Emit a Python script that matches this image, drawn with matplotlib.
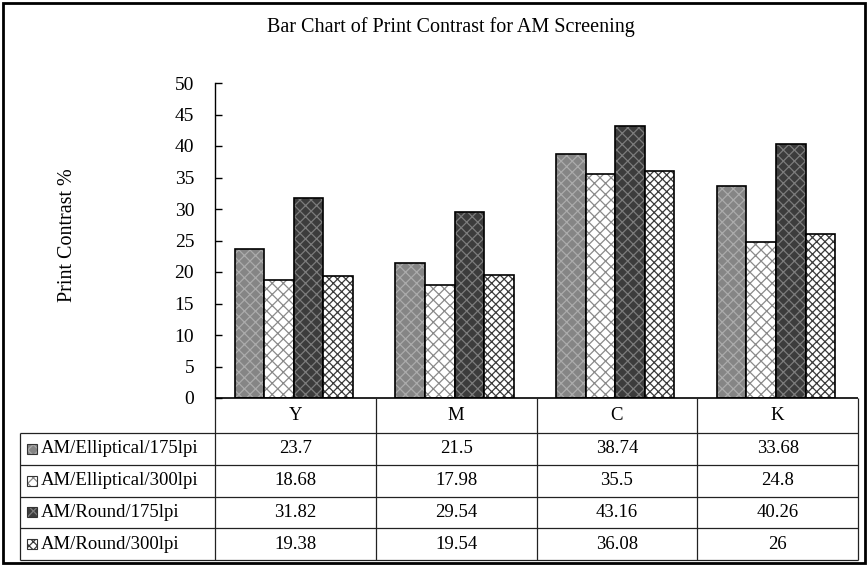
import numpy as np
import matplotlib
matplotlib.use("Agg")
import matplotlib.pyplot as plt
from matplotlib.patches import Rectangle

# ===== DATA =====
categories = ["Y", "M", "C", "K"]
series_names = ["AM/Elliptical/175lpi", "AM/Elliptical/300lpi",
                "AM/Round/175lpi", "AM/Round/300lpi"]
ell_175 = [23.7, 21.5, 38.74, 33.68]
ell_300 = [18.68, 17.98, 35.5, 24.8]
round_175 = [31.82, 29.54, 43.16, 40.26]
round_300 = [19.38, 19.54, 36.08, 26]
table_text = [["23.7", "21.5", "38.74", "33.68"],
              ["18.68", "17.98", "35.5", "24.8"],
              ["31.82", "29.54", "43.16", "40.26"],
              ["19.38", "19.54", "36.08", "26"]]
yticks = [0, 5, 10, 15, 20, 25, 30, 35, 40, 45, 50]

# (face, hatch colour, hatch)
styles = [("#858585", "#ababab", "xxx"),
          ("white", "#8a8a8a", "xxx"),
          ("#3c3c3c", "#7c7c7c", "xxx"),
          ("white", "#3a3a3a", "xxxx")]

plt.rcParams['font.family'] = ['Liberation Serif', 'DejaVu Serif']
plt.rcParams['hatch.linewidth'] = 0.9

W, H = 868, 566
fig = plt.figure(figsize=(W / 100, H / 100), dpi=100)

# plot area in pixels
left, right, top, base = 215, 858, 83, 398
ax = fig.add_axes([left / W, 1 - base / H, (right - left) / W, (base - top) / H])

n = len(categories)
x = np.arange(n) + 0.5
bw = 0.184
all_series = [ell_175, ell_300, round_175, round_300]
for i, vals in enumerate(all_series):
    face, hc, hatch = styles[i]
    pos = x + (i - 1.5) * bw - 0.01
    ax.bar(pos, vals, bw, color=face, edgecolor=hc, hatch=hatch, linewidth=0)
    ax.bar(pos, vals, bw, facecolor="none", edgecolor="black", linewidth=1.2)

ax.set_xlim(0, n)
ax.set_ylim(0, 50)
ax.set_yticks(yticks)
ax.set_xticks([])
for s in ["top", "right", "bottom"]:
    ax.spines[s].set_visible(False)
ax.spines["left"].set_linewidth(1.0)
ax.tick_params(axis="y", direction="in", length=5, width=1, pad=15, labelsize=14)

# ===== TABLE (pixel coords overlay) =====
tax = fig.add_axes([0, 0, 1, 1])
tax.set_xlim(0, W)
tax.set_ylim(H, 0)
tax.axis("off")

tab_left, tab_bottom = 20, 560
head_bot = 433
row_h = (tab_bottom - head_bot) / 4
col_w = (right - left) / n
lc = "#222222"
fs_tab = 13.5

# header row
tax.hlines(base, left, right, color="black", lw=1.2)
for j, cat in enumerate(categories):
    tax.text(left + col_w * (j + 0.5), (base + head_bot) / 2, cat,
             ha="center", va="center", fontsize=fs_tab)
# horizontal lines of body
for k in range(5):
    yy = head_bot + k * row_h
    tax.hlines(yy, tab_left, right, color=lc, lw=0.9)
# vertical lines
for j in range(n + 1):
    tax.vlines(left + j * col_w, base, tab_bottom, color=lc, lw=0.9)
tax.vlines(tab_left, head_bot, tab_bottom, color=lc, lw=0.9)

for i in range(4):
    cy = head_bot + row_h * (i + 0.5)
    face, hc, hatch = styles[i]
    tax.add_patch(Rectangle((27, cy - 5), 10, 10, facecolor=face, edgecolor=hc,
                            hatch=hatch, linewidth=0))
    tax.add_patch(Rectangle((27, cy - 5), 10, 10, facecolor="none",
                            edgecolor="#333333", linewidth=0.8))
    tax.text(41, cy, series_names[i], ha="left", va="center", fontsize=fs_tab)
    for j in range(n):
        tax.text(left + col_w * (j + 0.5), cy, table_text[i][j],
                 ha="center", va="center", fontsize=fs_tab)

# ===== TEXTS =====
tax.text(451, 27, "Bar Chart of Print Contrast for AM Screening",
         ha="center", va="center", fontsize=14.5)
tax.text(67, 235, "Print Contrast %", rotation=90,
         ha="center", va="center", fontsize=14.5)

# outer border
tax.add_patch(Rectangle((3, 3), W - 6, H - 6, fill=False, edgecolor="black", linewidth=2))

fig.savefig("out.png", dpi=100)
